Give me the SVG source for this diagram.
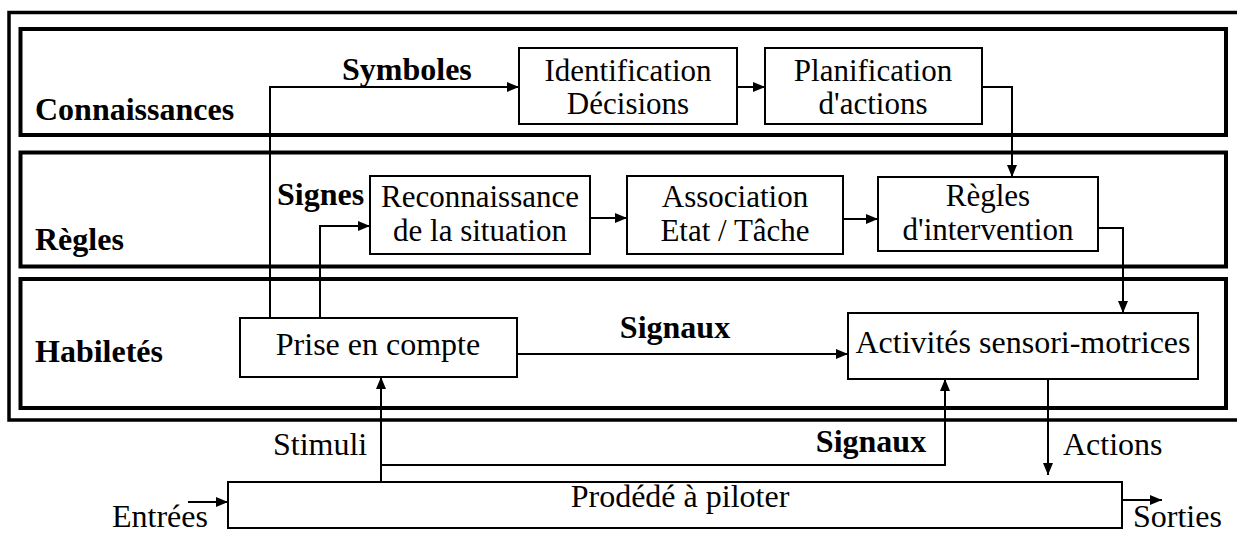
<svg xmlns="http://www.w3.org/2000/svg" width="1237" height="533" viewBox="0 0 1237 533" font-family="'Liberation Serif', 'DejaVu Serif', serif">
<style>
text{font-family:'Liberation Serif','DejaVu Serif',serif;font-size:32px;fill:#000}
.b{font-weight:bold}
.m{text-anchor:middle}
.t{font-size:31px}
.panel{fill:none;stroke:#000;stroke-width:4}
.box{fill:#fff;stroke:#000;stroke-width:2}
.ln{fill:none;stroke:#000;stroke-width:2}
</style>
<defs>
<marker id="ah" viewBox="0 0 12 10" refX="12" refY="5" markerWidth="12" markerHeight="10" markerUnits="userSpaceOnUse" orient="auto">
<path d="M0,0 L12,5 L0,10 Z" fill="#000"/>
</marker>
</defs>
<rect width="1237" height="533" fill="#fff"/>
<g id="frame">
<path d="M1240,12.5 H9 V420 H1240" fill="none" stroke="#000" stroke-width="3.5"/>
</g>
<g id="panel-connaissances">
<rect class="panel" x="20.5" y="29" width="1205.5" height="106"/>
<text class="b" x="35" y="120">Connaissances</text>
</g>
<g id="panel-regles">
<rect class="panel" x="20.5" y="152.5" width="1205.5" height="114"/>
<text class="b" x="35" y="250">Règles</text>
</g>
<g id="panel-habiletes">
<rect class="panel" x="20.5" y="279" width="1205.5" height="129"/>
<text class="b" x="35" y="362">Habiletés</text>
</g>
<g id="connectors">
<path class="ln" d="M270,318 V87 H519" marker-end="url(#ah)"/>
<path class="ln" d="M737,87 H765" marker-end="url(#ah)"/>
<path class="ln" d="M982,87 H1012 V177" marker-end="url(#ah)"/>
<path class="ln" d="M320,318 V226 H370" marker-end="url(#ah)"/>
<path class="ln" d="M590,218 H627" marker-end="url(#ah)"/>
<path class="ln" d="M843,219 H878" marker-end="url(#ah)"/>
<path class="ln" d="M1098,228 H1123 V313" marker-end="url(#ah)"/>
<path class="ln" d="M517,354 H848" marker-end="url(#ah)"/>
<path class="ln" d="M381,482 V377" marker-end="url(#ah)"/>
<path class="ln" d="M381,465 H945 V379" marker-end="url(#ah)"/>
<path class="ln" d="M1048,379 V475" marker-end="url(#ah)"/>
<path class="ln" d="M188,502 H228" marker-end="url(#ah)"/>
<path class="ln" d="M1122,500 H1162" marker-end="url(#ah)"/>
<text class="b" x="342" y="80">Symboles</text>
<text class="b" x="277" y="205">Signes</text>
<text class="b" x="675" y="338" text-anchor="middle">Signaux</text>
<text class="b" x="871" y="452" text-anchor="middle">Signaux</text>
<text x="273" y="455">Stimuli</text>
<text x="1063" y="455">Actions</text>
<text x="112" y="527">Entrées</text>
<text x="1133" y="527">Sorties</text>
</g>
<g id="node-identification">
<rect class="box" x="519" y="48" width="218" height="76"/>
<text class="m t" x="628" y="81">Identification</text>
<text class="m t" x="628" y="114">Décisions</text>
</g>
<g id="node-planification">
<rect class="box" x="765" y="48" width="217" height="76"/>
<text class="m t" x="873" y="81">Planification</text>
<text class="m t" x="873" y="114">d'actions</text>
</g>
<g id="node-reconnaissance">
<rect class="box" x="370" y="176" width="220" height="78"/>
<text class="m t" x="480" y="207">Reconnaissance</text>
<text class="m t" x="480" y="241">de la situation</text>
</g>
<g id="node-association">
<rect class="box" x="627" y="176" width="216" height="78"/>
<text class="m t" x="735" y="207">Association</text>
<text class="m t" x="735" y="241">Etat / Tâche</text>
</g>
<g id="node-regles-intervention">
<rect class="box" x="878" y="177" width="220" height="74"/>
<text class="m t" x="988" y="206">Règles</text>
<text class="m t" x="988" y="240">d'intervention</text>
</g>
<g id="node-prise">
<rect class="box" x="240" y="318" width="277" height="59"/>
<text class="m" x="378" y="355">Prise en compte</text>
</g>
<g id="node-activites">
<rect class="box" x="848" y="313" width="350" height="66"/>
<text class="m" x="1023" y="353">Activités sensori-motrices</text>
</g>
<g id="node-procede">
<rect class="box" x="228" y="482" width="894" height="46"/>
<text class="m" x="680" y="507">Prodédé à piloter</text>
</g>
</svg>
